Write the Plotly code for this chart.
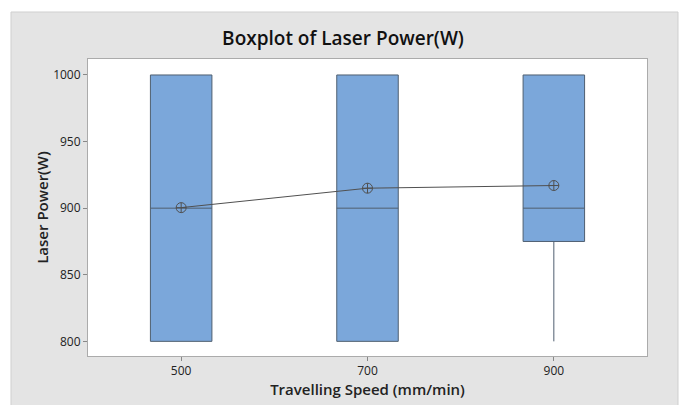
import plotly.graph_objects as go

speeds = ["500", "700", "900"]
q1 = [800, 800, 875]
medians = [900, 900, 900]
q3 = [1000, 1000, 1000]
lower_whisker = [800, 800, 800]
upper_whisker = [1000, 1000, 1000]
means = [900.4, 915, 917]
y_ticks = [800, 850, 900, 950, 1000]

FONT = "Open Sans"

fig = go.Figure()
fig.add_trace(go.Box(
    x=speeds, q1=q1, median=medians, q3=q3,
    lowerfence=lower_whisker, upperfence=upper_whisker,
    fillcolor="#7BA7DA", line=dict(color="#4F5F70", width=1),
    whiskerwidth=0, width=0.33, boxpoints=False, showlegend=False,
))
fig.add_trace(go.Scatter(
    x=speeds, y=means, mode="lines+markers",
    line=dict(color="#505050", width=1),
    marker=dict(symbol="circle-cross-open", size=10, color="#505050", line=dict(width=1)),
    showlegend=False,
))

L, R, T, B = 88, 647, 59, 356
W, H = R - L, B - T
def px(x): return (x - L) / W
def py(y): return (B - y) / H

fig.add_shape(type="rect", xref="paper", yref="paper",
              x0=px(11), x1=px(678), y0=py(410), y1=py(12),
              fillcolor="#E4E4E4", line=dict(color="#CFCFCF", width=1), layer="below")
fig.add_shape(type="rect", xref="paper", yref="paper",
              x0=0, x1=1, y0=0, y1=1,
              fillcolor="white", line=dict(width=0), layer="below")

fig.update_layout(
    template="none",
    width=682, height=405,
    margin=dict(l=L, r=682 - R, t=T, b=405 - B, autoexpand=False),
    paper_bgcolor="white", plot_bgcolor="white",
    font=dict(family=FONT, color="#222", size=12),
    title=dict(text="Boxplot of Laser Power(W)", x=343 / 682, xanchor="center",
               y=1 - 38 / 405, yanchor="middle",
               font=dict(size=19, family=FONT, color="#111", weight=600)),
    xaxis=dict(type="category", range=[-0.5, 2.5], showline=True, mirror=True,
               linecolor="#ABABAB", linewidth=1, ticks="outside", ticklen=4, tickcolor="#888",
               tickfont=dict(size=12), showgrid=False, zeroline=False, automargin=False,
               title=dict(text="Travelling Speed (mm/min)", font=dict(size=15, family=FONT, weight=600), standoff=1)),
    yaxis=dict(range=[789, 1012], tickvals=y_ticks, showline=True, mirror=True,
               linecolor="#ABABAB", linewidth=1, ticks="outside", ticklen=4, tickcolor="#888",
               tickfont=dict(size=12), showgrid=False, zeroline=False, automargin=False,
               title=dict(text="Laser Power(W)", font=dict(size=15, family=FONT, weight=600), standoff=0)),
)

fig.write_html("out.html", config={"displayModeBar": False},
               post_script="document.body.style.margin='0';document.body.style.overflow='hidden';")
